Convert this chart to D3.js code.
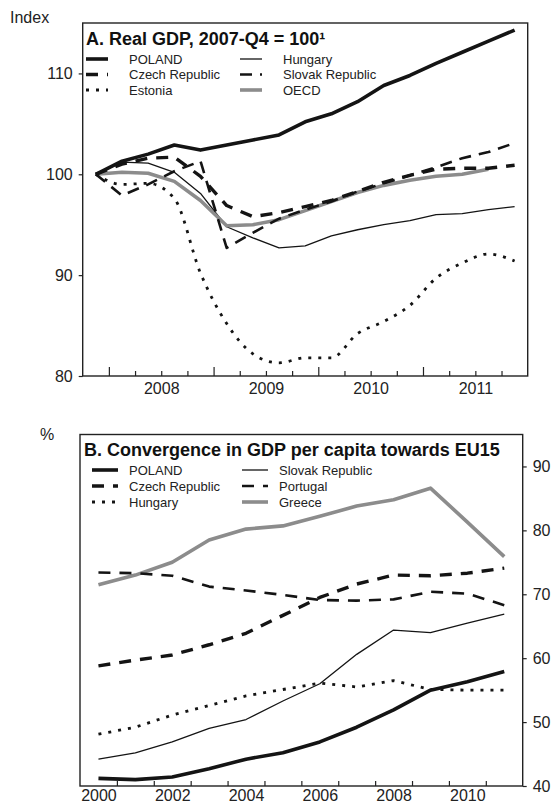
<!DOCTYPE html>
<html>
<head>
<meta charset="utf-8">
<script src="https://cdn.jsdelivr.net/npm/d3@7"></script>
<style>
  html, body { margin: 0; padding: 0; background: #fff; }
  svg { display: block; font-family: "Liberation Sans", Arial, sans-serif; }
</style>
</head>
<body>
<svg id="chart" width="557" height="807"></svg>
<script>
// ---- Panel A: real GDP, quarterly, 2007-Q4 = 100 ----
const quarters = ["2007-Q4","2008-Q1","2008-Q2","2008-Q3","2008-Q4","2009-Q1","2009-Q2","2009-Q3","2009-Q4",
                  "2010-Q1","2010-Q2","2010-Q3","2010-Q4","2011-Q1","2011-Q2","2011-Q3","2011-Q4"];
const gdpPoland  = [100, 101.3, 102.0, 102.9, 102.4, 102.9, 103.4, 103.9, 105.2, 106.0, 107.2, 108.8, 109.8, 111.0, 112.1, 113.2, 114.3];
const gdpCzech   = [100, 101.0, 101.6, 101.7, 99.8, 96.9, 95.8, 96.2, 96.8, 97.4, 98.3, 99.2, 99.9, 100.5, 100.6, 100.6, 100.9];
const gdpEstonia = [100, 99.0, 99.1, 97.6, 90.2, 85.2, 82.2, 81.3, 81.8, 81.8, 84.2, 85.4, 87.0, 89.7, 91.2, 92.1, 91.4];
const gdpHungary = [100, 101.2, 101.1, 100.2, 98.1, 94.8, 93.7, 92.7, 92.9, 93.9, 94.5, 95.0, 95.4, 96.0, 96.1, 96.5, 96.8];
const gdpSlovak  = [100, 97.9, 99.0, 100.3, 101.3, 92.7, 94.2, 95.6, 96.5, 97.3, 98.3, 99.1, 99.9, 100.7, 101.6, 102.2, 103.1];
const gdpOECD    = [100, 100.2, 100.1, 99.3, 97.4, 94.9, 95.0, 95.5, 96.4, 97.3, 98.2, 98.9, 99.4, 99.8, 100.0, 100.5];
const yTicksA = [80, 90, 100, 110];
const yearLabelsA = [2008, 2009, 2010, 2011];

// ---- Panel B: GDP per capita relative to EU15 (%) ----
const years = [2000, 2001, 2002, 2003, 2004, 2005, 2006, 2007, 2008, 2009, 2010, 2011];
const pcPoland   = [41.2, 41.0, 41.4, 42.7, 44.2, 45.2, 46.9, 49.2, 51.9, 55.0, 56.3, 57.9];
const pcCzech    = [58.8, 59.7, 60.5, 62.1, 63.9, 66.7, 69.5, 71.6, 73.0, 72.9, 73.3, 74.1];
const pcHungary  = [48.1, 49.2, 51.1, 52.6, 54.1, 55.1, 56.1, 55.5, 56.5, 55.1, 55.0, 55.0];
const pcSlovak   = [44.2, 45.2, 46.9, 49.0, 50.4, 53.3, 56.0, 60.6, 64.4, 64.0, 65.5, 66.9];
const pcPortugal = [73.4, 73.3, 72.9, 71.2, 70.6, 69.9, 69.1, 69.0, 69.2, 70.4, 70.1, 68.3];
const pcGreece   = [71.5, 73.0, 75.0, 78.5, 80.2, 80.7, 82.2, 83.8, 84.8, 86.6, 81.3, 75.9];
const yTicksB = [40, 50, 60, 70, 80, 90];
const yearLabelsB = [2000, 2002, 2004, 2006, 2008, 2010];

const BLACK = "#141414", GREY = "#8c8c8c";
const FONT = "Liberation Sans, Arial, sans-serif";

const svg = d3.select("#chart");

// line styles shared by plot and legend
const styles = {
  poland:   { stroke: BLACK, width: 3.6, dash: null },
  czech:    { stroke: BLACK, width: 3.4, dash: "12,9" },
  estonia:  { stroke: BLACK, width: 2.8, dash: "3,7" },
  hungaryA: { stroke: BLACK, width: 1.3, dash: null },
  slovakA:  { stroke: BLACK, width: 2.6, dash: "12,8" },
  oecd:     { stroke: GREY,  width: 3.6, dash: null },
  hungaryB: { stroke: BLACK, width: 2.8, dash: "3,7" },
  slovakB:  { stroke: BLACK, width: 1.3, dash: null },
  portugal: { stroke: BLACK, width: 2.6, dash: "12,9" },
  greece:   { stroke: GREY,  width: 3.6, dash: null }
};

function applyStyle(sel, st) {
  sel.attr("fill", "none")
     .attr("stroke", st.stroke)
     .attr("stroke-width", st.width)
     .attr("stroke-linejoin", "round")
     .attr("stroke-dasharray", st.dash);
}

function drawLegend(g, items, x0, x1, swLen, textGap, y0, dy) {
  items.forEach((it, k) => {
    const col = k % 2, row = Math.floor(k / 2);
    const x = col === 0 ? x0 : x1;
    const y = y0 + row * dy;
    g.append("line").attr("x1", x).attr("x2", x + swLen).attr("y1", y).attr("y2", y)
      .call(applyStyle, it.style).attr("stroke-linejoin", null);
    g.append("text").attr("x", x + swLen + textGap).attr("y", y).attr("dy", "0.35em")
      .attr("font-size", 13).attr("fill", "#222").text(it.label);
  });
}

// ================= Panel A =================
const A = { left: 82.7, right: 527.7, top: 23, bottom: 376 };
const xA = d3.scaleLinear().domain([2007.75, 2012]).range([A.left, A.right]);
const yA = d3.scaleLinear().domain([80, 115]).range([A.bottom, A.top]);
const qTime = q => { const [yy, qq] = q.split("-Q").map(Number); return yy + (qq - 1) * 0.25 + 0.125; };

const gA = svg.append("g");

// frame
gA.append("rect").attr("x", A.left).attr("y", A.top)
  .attr("width", A.right - A.left).attr("height", A.bottom - A.top)
  .attr("fill", "none").attr("stroke", "#222").attr("stroke-width", 1.4);

// y axis (left)
gA.append("g").attr("transform", `translate(${A.left},0)`)
  .call(d3.axisLeft(yA).tickValues(yTicksA).tickSize(4).tickPadding(6).tickFormat(d3.format("d")))
  .call(g => g.select(".domain").remove())
  .call(g => g.selectAll("line").attr("stroke", "#222").attr("stroke-width", 1.2))
  .call(g => g.selectAll("text").attr("font-size", 16).attr("fill", "#222").attr("font-family", FONT));

// x axis: quarter ticks, year ticks, year labels
const quarterBounds = d3.range(2008, 2012, 0.25).filter(t => t % 1 !== 0);
gA.append("g").attr("transform", `translate(0,${A.bottom})`)
  .call(d3.axisBottom(xA).tickValues(quarterBounds).tickSize(-5).tickFormat(""))
  .call(g => g.select(".domain").remove())
  .call(g => g.selectAll("line").attr("stroke", "#222").attr("stroke-width", 1.2));
gA.append("g").attr("transform", `translate(0,${A.bottom})`)
  .call(d3.axisBottom(xA).tickValues(yearLabelsA).tickSize(-9).tickFormat(""))
  .call(g => g.select(".domain").remove())
  .call(g => g.selectAll("line").attr("stroke", "#222").attr("stroke-width", 1.2));
gA.append("g").attr("transform", `translate(0,${A.bottom})`)
  .call(d3.axisBottom(xA).tickValues(yearLabelsA.map(y => y + 0.5)).tickSize(0).tickPadding(7)
        .tickFormat(d => Math.floor(d)))
  .call(g => g.select(".domain").remove())
  .call(g => g.selectAll("text").attr("font-size", 16).attr("fill", "#222").attr("font-family", FONT));

// series
const lineA = d3.line().x((d, i) => xA(qTime(quarters[i]))).y(d => yA(d));
const lineAsmooth = d3.line().x((d, i) => xA(qTime(quarters[i]))).y(d => yA(d)).curve(d3.curveMonotoneX);
[
  [gdpHungary, "hungaryA", lineA],
  [gdpEstonia, "estonia", lineAsmooth],
  [gdpOECD, "oecd", lineA],
  [gdpSlovak, "slovakA", lineA],
  [gdpCzech, "czech", lineA],
  [gdpPoland, "poland", lineA]
].forEach(([vals, key, gen]) => {
  gA.append("path").attr("d", gen(vals)).call(applyStyle, styles[key]);
});

// title, legend, unit
gA.append("text").attr("x", 86).attr("y", 39).attr("dy", "0.35em")
  .attr("font-size", 18).attr("font-weight", "bold").attr("fill", "#111")
  .text("A. Real GDP, 2007-Q4 = 100¹");
drawLegend(gA, [
  { label: "POLAND", style: styles.poland },
  { label: "Hungary", style: styles.hungaryA },
  { label: "Czech Republic", style: styles.czech },
  { label: "Slovak Republic", style: styles.slovakA },
  { label: "Estonia", style: styles.estonia },
  { label: "OECD", style: styles.oecd }
], 86, 240, 22, 21, 59, 15.5);
svg.append("text").attr("x", 10).attr("y", 17).attr("dy", "0.35em")
  .attr("font-size", 16).attr("fill", "#222").text("Index");

// ================= Panel B =================
const B = { left: 80, right: 522.7, top: 434.5, bottom: 786 };
const xB = d3.scaleLinear().domain([1999.5, 2011.5]).range([B.left, B.right]);
const yB = d3.scaleLinear().domain([40, 95]).range([B.bottom, B.top]);

const gB = svg.append("g");
gB.append("rect").attr("x", B.left).attr("y", B.top)
  .attr("width", B.right - B.left).attr("height", B.bottom - B.top)
  .attr("fill", "none").attr("stroke", "#222").attr("stroke-width", 1.4);

// y axis (right)
gB.append("g").attr("transform", `translate(${B.right},0)`)
  .call(d3.axisRight(yB).tickValues(yTicksB).tickSize(4).tickPadding(6).tickFormat(d3.format("d")))
  .call(g => g.select(".domain").remove())
  .call(g => g.selectAll("line").attr("stroke", "#222").attr("stroke-width", 1.2))
  .call(g => g.selectAll("text").attr("font-size", 16).attr("fill", "#222").attr("font-family", FONT));

// x axis: ticks between years, labels on every second year
gB.append("g").attr("transform", `translate(0,${B.bottom})`)
  .call(d3.axisBottom(xB).tickValues(years.slice(0, -1).map(y => y + 0.5)).tickSize(-5).tickFormat(""))
  .call(g => g.select(".domain").remove())
  .call(g => g.selectAll("line").attr("stroke", "#222").attr("stroke-width", 1.2));
gB.append("g").attr("transform", `translate(0,${B.bottom})`)
  .call(d3.axisBottom(xB).tickValues(yearLabelsB).tickSize(0).tickPadding(4).tickFormat(d3.format("d")))
  .call(g => g.select(".domain").remove())
  .call(g => g.selectAll("text").attr("font-size", 16).attr("fill", "#222").attr("font-family", FONT));

const lineB = d3.line().x((d, i) => xB(years[i])).y(d => yB(d));
[
  [pcGreece, "greece"],
  [pcPortugal, "portugal"],
  [pcSlovak, "slovakB"],
  [pcHungary, "hungaryB"],
  [pcCzech, "czech"],
  [pcPoland, "poland"]
].forEach(([vals, key]) => {
  gB.append("path").attr("d", lineB(vals)).call(applyStyle, styles[key]);
});

gB.append("text").attr("x", 84).attr("y", 450).attr("dy", "0.35em")
  .attr("font-size", 18).attr("font-weight", "bold").attr("fill", "#111")
  .text("B. Convergence in GDP per capita towards EU15");
drawLegend(gB, [
  { label: "POLAND", style: styles.poland },
  { label: "Slovak Republic", style: styles.slovakB },
  { label: "Czech Republic", style: styles.czech },
  { label: "Portugal", style: styles.portugal },
  { label: "Hungary", style: styles.hungaryB },
  { label: "Greece", style: styles.greece }
], 92, 242, 26, 11, 470, 16);
svg.append("text").attr("x", 40).attr("y", 434).attr("dy", "0.35em")
  .attr("font-size", 16).attr("fill", "#222").text("%");
</script>
</body>
</html>
